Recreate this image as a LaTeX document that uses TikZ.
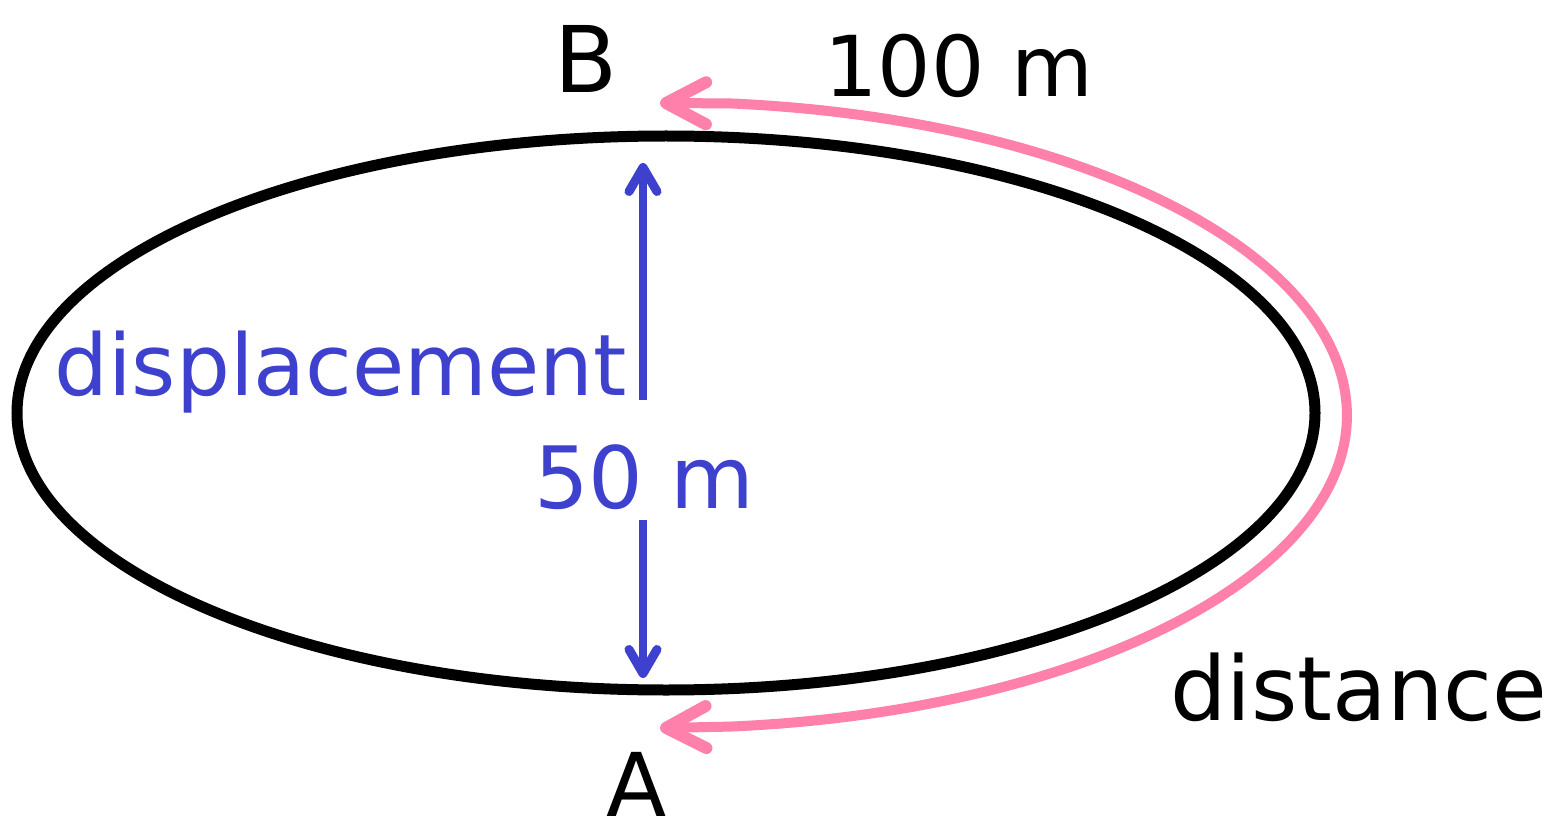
\documentclass[tikz,border=0pt]{standalone}
\usepackage{fontspec}
\setmainfont{DejaVu Sans}
\usetikzlibrary{arrows.meta}
\definecolor{dblue}{RGB}{62,64,206}
\definecolor{dpink}{RGB}{255,128,170}
\tikzset{
  lbl/.style={inner sep=0pt, font=\fontsize{#1}{#1}\selectfont},
  track/.style={line width=11pt, draw=black},
  distpath/.style={line width=10pt, draw=dpink, line cap=round, line join=round,
    {Straight Barb[length=40pt,width=42pt,line width=12pt,round]}-{Straight Barb[length=40pt,width=42pt,line width=12pt,round]}},
  disparrow/.style={line width=8pt, draw=dblue,
    -{Straight Barb[length=24pt,width=28pt,line width=9pt,round]}}
}
\begin{document}
\begin{tikzpicture}[x=1pt,y=-1pt]
\useasboundingbox (0,0) rectangle (1567,829);
% track
\draw[track] (666,413) ellipse [x radius=649, y radius=277];
% distance path
\coordinate (pA) at (660,728);
\coordinate (pB) at (660,103);
\draw[distpath] (pA) -- (730,726.6) arc[start angle=84.6, end angle=-84.6, x radius=681, y radius=313] -- (pB);
% labels
\node[lbl=92, anchor=base] (B) at (586,93) {B};
\node[lbl=88, anchor=base] (A) at (637,816) {A};
\node[lbl=84, anchor=base west] (hm) at (824,97) {100 m};
\node[lbl=89, anchor=base west] (dist) at (1170,720) {distance};
\node[lbl=85, anchor=base west, text=dblue] (disp) at (54,395) {displacement};
\node[lbl=86, anchor=base west, text=dblue] (fifty) at (534,508) {50 m};
% displacement arrows
\coordinate (up0) at (643,400);
\coordinate (up1) at (643,163);
\coordinate (dn0) at (643,520);
\coordinate (dn1) at (643,678);
\draw[disparrow] (up0) -- (up1);
\draw[disparrow] (dn0) -- (dn1);
\end{tikzpicture}
\end{document}
